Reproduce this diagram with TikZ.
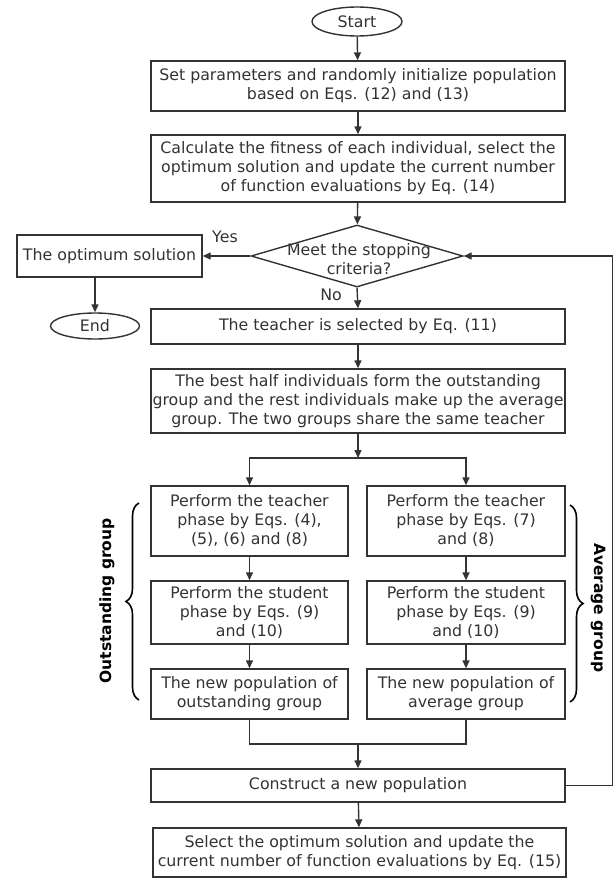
\documentclass[tikz,border=0pt]{standalone}
\usepackage{fontspec}
\setmainfont{DejaVu Sans}
\usetikzlibrary{shapes.geometric,arrows.meta,decorations.pathreplacing}
\definecolor{ink}{HTML}{333333}
\begin{document}
\begin{tikzpicture}[x=1pt,y=-1pt,line width=1.4pt,color=ink,
  every node/.style={font=\fontsize{15.8}{19}\selectfont,text=ink,inner sep=0pt,align=center},
  box/.style n args={2}{draw,rectangle,minimum width=#1,minimum height=#2},
  term/.style n args={2}{draw,ellipse,minimum width=#1,minimum height=#2},
  decision/.style={draw,diamond,minimum width=212,minimum height=62},
  arr/.style={-{Triangle[length=8pt,width=7pt]}},
  grp/.style={decorate,decoration={brace,amplitude=13pt},line width=1.6pt,black},
  grplabel/.style={font=\fontsize{15.5}{18}\selectfont\bfseries,text=black}]
\useasboundingbox (0,0) rectangle (614,878);
\node[term={90}{29}] (start) at (357,21.5) {Start};
\node[box={414}{50}] (init) at (358,86) {Set parameters and randomly initialize population\\based on Eqs. (12) and (13)};
\node[box={414}{67}] (fit) at (358,168.5) {Calculate the fitness of each individual, select the\\optimum solution and update the current number\\of function evaluations by Eq. (14)};
\node[decision] (stop) at (357,256) {};
\node (stoptext) at (359,259.5) {Meet the stopping\\criteria?};
\node[box={185}{42}] (opt) at (109.5,256) {The optimum solution};
\node[term={89}{26}] (end) at (95,326) {End};
\node[box={414}{35}] (teach) at (358,326.5) {The teacher is selected by Eq. (11)};
\node[box={414}{64}] (split) at (358,401) {The best half individuals form the outstanding\\group and the rest individuals make up the average\\group. The two groups share the same teacher};
\node[box={197}{70}] (ot) at (249.5,521) {Perform the teacher\\phase by Eqs. (4),\\(5), (6) and (8)};
\node[box={198}{70}] (at) at (466,521) {Perform the teacher\\phase by Eqs. (7)\\and (8)};
\node[box={197}{63}] (os) at (249.5,612.5) {Perform the student\\phase by Eqs. (9)\\and (10)};
\node[box={198}{63}] (as) at (466,612.5) {Perform the student\\phase by Eqs. (9)\\and (10)};
\node[box={197}{50}] (on) at (249.5,694) {The new population of\\outstanding group};
\node[box={198}{50}] (an) at (466,694) {The new population of\\average group};
\node[box={414}{33}] (cons) at (358,785.5) {Construct a new population};
\node[box={413}{49}] (sel) at (359.5,852.5) {Select the optimum solution and update the\\current number of function evaluations by Eq. (15)};
\node (yes) at (225,237) {Yes};
\node (no) at (331,295) {No};
\coordinate (fork) at (358,458);
\coordinate (join) at (358,744);
\coordinate (loop) at (612.5,785.5);
\draw[arr] (start) -- (init);
\draw[arr] (init) -- (fit);
\draw[arr] (fit) -- (stop);
\draw[arr] (stop.west) -- (opt.east);
\draw[arr] (stop.south) -- (teach.north);
\draw[arr] (end.north |- opt.south) -- (end.north);
\draw[arr] (teach) -- (split);
\draw[arr] (split) -- (fork);
\draw[arr] (fork) -| (ot.north);
\draw[arr] (fork) -| (at.north);
\draw[arr] (ot) -- (os);
\draw[arr] (os) -- (on);
\draw[arr] (at) -- (as);
\draw[arr] (as) -- (an);
\draw (on.south) |- (join) -| (an.south);
\draw[arr] (join) -- (cons);
\draw[arr] (cons) -- (sel);
\draw[arr] (cons.east) -- (loop) |- (stop.east);
\draw[grp] (139,700) -- (139,503);
\node[grplabel,rotate=90] (outg) at (107,601) {Outstanding group};
\draw[grp] (570,505) -- (570,702);
\node[grplabel,rotate=-90] (avgg) at (598,608) {Average group};
\end{tikzpicture}
\end{document}
